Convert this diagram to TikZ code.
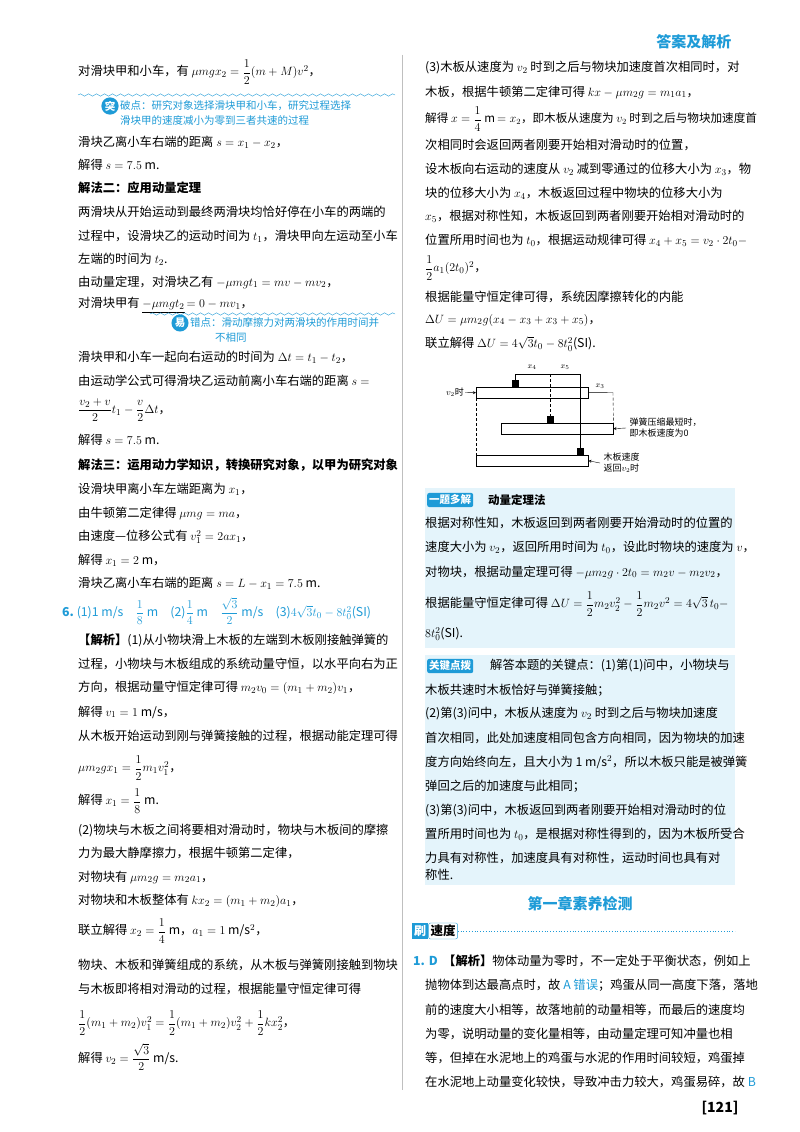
\documentclass[tikz,border=0pt]{standalone}
\usepackage{amsmath}
\usepackage{fontspec}
\setmainfont{Noto Sans CJK SC}
\usetikzlibrary{decorations.pathmorphing}
\definecolor{bl}{HTML}{1E9BD7}
\definecolor{bgc}{HTML}{E4F4FB}
\newcommand{\lft}[2]{\node[txt] at (78,#1) {#2};}
\newcommand{\rgt}[2]{\node[txt] at (425,#1) {#2};}
\begin{document}
\begin{tikzpicture}[x=1pt,y=-1pt,
 txt/.style={anchor=west,inner sep=0pt,font=\fontsize{12.3}{15}\selectfont},
 tip/.style={anchor=west,inner sep=0pt,font=\fontsize{10.5}{13}\selectfont,text=bl},
 tag/.style={fill=bl,text=white,rounded corners=2pt,inner sep=2pt,font=\fontsize{10.5}{13}\selectfont\bfseries},
 board/.style={draw,thin,fill=white},
 blk/.style={fill=black,minimum size=7pt,inner sep=0pt},
 dl/.style={densely dashed,thin}]
\useasboundingbox (0,0) rectangle (800,1132);
\fill[white] (0,0) rectangle (800,1132);
\draw[gray!50,line width=0.8pt] (402,55) -- (402,1090);
\node[anchor=east,text=bl,font=\fontsize{15}{18}\selectfont\bfseries] (hdr) at (735,42) {答案及解析};
% left column
\lft{72}{对滑块甲和小车，有 $\mu mgx_2=\dfrac{1}{2}(m+M)v^2$，}
\draw[bl,decorate,decoration={snake,amplitude=1.2pt,segment length=8pt}] (78,95) -- (395,95);
\node[tag,circle,inner sep=1pt] (t1) at (110,106) {突};
\node[tip] at (120,106) {破点：研究对象选择滑块甲和小车，研究过程选择};
\node[tip] at (120,121) {滑块甲的速度减小为零到三者共速的过程};
\lft{142}{滑块乙离小车右端的距离 $s=x_1-x_2$，}
\lft{165}{解得 $s=7.5$ m.}
\lft{188}{\bfseries 解法二：应用动量定理}
\lft{212}{两滑块从开始运动到最终两滑块均恰好停在小车的两端的}
\lft{236}{过程中，设滑块乙的运动时间为 $t_1$，滑块甲向左运动至小车}
\lft{259}{左端的时间为 $t_2$.}
\lft{282}{由动量定理，对滑块乙有 $-\mu mgt_1=mv-mv_2$，}
\lft{305}{对滑块甲有 \underline{$-\mu mgt_2$}$\,=0-mv_1$，}
\draw[bl,decorate,decoration={snake,amplitude=1.2pt,segment length=8pt}] (150,314) -- (395,314);
\node[tag,circle,inner sep=1pt] (t2) at (180,323) {易};
\node[tip] at (190,323) {错点：滑动摩擦力对两滑块的作用时间并};
\node[tip] at (215,338) {不相同};
\lft{357}{滑块甲和小车一起向右运动的时间为 $\Delta t=t_1-t_2$，}
\lft{381}{由运动学公式可得滑块乙运动前离小车右端的距离 $s=$}
\lft{410}{$\dfrac{v_2+v}{2}t_1-\dfrac{v}{2}\Delta t$，}
\lft{440}{解得 $s=7.5$ m.}
\lft{465}{\bfseries 解法三：运用动力学知识，转换研究对象，以甲为研究对象}
\lft{489}{设滑块甲离小车左端距离为 $x_1$，}
\lft{513}{由牛顿第二定律得 $\mu mg=ma$，}
\lft{537}{由速度—位移公式有 $v_1^2=2ax_1$，}
\lft{560}{解得 $x_1=2$ m，}
\lft{583}{滑块乙离小车右端的距离 $s=L-x_1=7.5$ m.}
\node[txt,text=bl] at (62,611) {\textbf{6.}\ (1)1 m/s\quad $\dfrac{1}{8}$ m\quad (2)$\dfrac{1}{4}$ m\quad $\dfrac{\sqrt3}{2}$ m/s\quad (3)$4\sqrt3t_0-8t_0^2$(SI)};
\lft{640}{\textbf{【解析】}(1)从小物块滑上木板的左端到木板刚接触弹簧的}
\lft{664}{过程，小物块与木板组成的系统动量守恒，以水平向右为正}
\lft{688}{方向，根据动量守恒定律可得 $m_2v_0=(m_1+m_2)v_1$，}
\lft{712}{解得 $v_1=1$ m/s，}
\lft{736}{从木板开始运动到刚与弹簧接触的过程，根据动能定理可得}
\lft{768}{$\mu m_2gx_1=\dfrac{1}{2}m_1v_1^2$，}
\lft{801}{解得 $x_1=\dfrac{1}{8}$ m.}
\lft{830}{(2)物块与木板之间将要相对滑动时，物块与木板间的摩擦}
\lft{853}{力为最大静摩擦力，根据牛顿第二定律，}
\lft{877}{对物块有 $\mu m_2g=m_2a_1$，}
\lft{901}{对物块和木板整体有 $kx_2=(m_1+m_2)a_1$，}
\lft{931}{联立解得 $x_2=\dfrac{1}{4}$ m，$a_1=1$ m/s$^2$，}
\lft{965}{物块、木板和弹簧组成的系统，从木板与弹簧刚接触到物块}
\lft{989}{与木板即将相对滑动的过程，根据能量守恒定律可得}
\lft{1023}{$\dfrac{1}{2}(m_1+m_2)v_1^2=\dfrac{1}{2}(m_1+m_2)v_2^2+\dfrac{1}{2}kx_2^2$，}
\lft{1057}{解得 $v_2=\dfrac{\sqrt3}{2}$ m/s.}
% right column
\rgt{68}{(3)木板从速度为 $v_2$ 时到之后与物块加速度首次相同时，对}
\rgt{92}{木板，根据牛顿第二定律可得 $kx-\mu m_2g=m_1a_1$，}
\node[txt,font=\fontsize{11.6}{15}\selectfont] at (425,119) {解得 $x=\dfrac{1}{4}$ m$\,=x_2$，即木板从速度为 $v_2$ 时到之后与物块加速度首};
\rgt{145}{次相同时会返回两者刚要开始相对滑动时的位置，}
\rgt{169}{设木板向右运动的速度从 $v_2$ 减到零通过的位移大小为 $x_3$，物}
\rgt{193}{块的位移大小为 $x_4$，木板返回过程中物块的位移大小为}
\rgt{216}{$x_5$，根据对称性知，木板返回到两者刚要开始相对滑动时的}
\rgt{240}{位置所用时间也为 $t_0$，根据运动规律可得 $x_4+x_5=v_2\cdot2t_0-$}
\rgt{268}{$\dfrac{1}{2}a_1(2t_0)^2$，}
\rgt{297}{根据能量守恒定律可得，系统因摩擦转化的内能}
\rgt{320}{$\Delta U=\mu m_2g(x_4-x_3+x_3+x_5)$，}
\rgt{344}{联立解得 $\Delta U=4\sqrt3t_0-8t_0^2$(SI).}
% diagram
\node[board,minimum width=112pt,minimum height=11pt,inner sep=0pt,anchor=north west] (b1) at (476,387) {};
\node[board,minimum width=112pt,minimum height=11pt,inner sep=0pt,anchor=north west] (b2) at (501,423) {};
\node[board,minimum width=112pt,minimum height=11pt,inner sep=0pt,anchor=north west] (b3) at (476,455) {};
\node[blk,anchor=south] (k1) at (515,387) {};
\node[blk,anchor=south] (k2) at (550,423) {};
\node[blk,anchor=south] (k3) at (580,455) {};
\coordinate (top1) at (515,374); \coordinate (top2) at (550,374); \coordinate (top3) at (580,374);
\draw[thin] (k1.north) -- (top1) -- (top3) -- (k3.north);
\draw[dl] (top2) -- (k2.north);
\draw[thin] (b1.east) -- (613,392.5);
\draw[dl] (613,392.5) -- (b2.north east);
\draw[dl] (b1.south west) -- (b3.north west);
\node[font=\fontsize{8}{9}\selectfont] at (532,367) {$x_4$};
\node[font=\fontsize{8}{9}\selectfont] at (565,367) {$x_5$};
\node[font=\fontsize{8}{9}\selectfont] at (600,386) {$x_3$};
\node[anchor=east,font=\fontsize{9}{10}\selectfont,inner sep=1pt] (v2) at (465,392.5) {$v_2$时};
\draw[-stealth] (v2.east) -- (b1.west);
\node[anchor=west,align=left,font=\fontsize{9}{11}\selectfont] (s2) at (626,428) {弹簧压缩最短时，\\即木板速度为0};
\draw[-stealth] (s2.west) -- (b2.east);
\node[anchor=west,align=left,font=\fontsize{9}{11}\selectfont] (s3) at (600,463) {木板速度\\返回$v_2$时};
\draw[-stealth] (s3.west) -- (b3.east);
% box 1
\fill[bgc] (425,488) rectangle (735,648);
\node[tag,anchor=west] (tg1) at (427,500) {一题多解};
\node[txt,font=\fontsize{11.5}{14}\selectfont\bfseries] at (488,500) {动量定理法};
\rgt{523}{根据对称性知，木板返回到两者刚要开始滑动时的位置的}
\rgt{547}{速度大小为 $v_2$，返回所用时间为 $t_0$，设此时物块的速度为 $v$，}
\rgt{572}{对物块，根据动量定理可得 $-\mu m_2g\cdot2t_0=m_2v-m_2v_2$，}
\rgt{604}{根据能量守恒定律可得 $\Delta U=\dfrac{1}{2}m_2v_2^2-\dfrac{1}{2}m_2v^2=4\sqrt3\,t_0-$}
\rgt{634}{$8t_0^2$(SI).}
% box 2
\fill[bgc] (425,655) rectangle (735,885);
\node[tag,anchor=west] (tg2) at (427,666) {关键点拨};
\node[txt] at (490,666) {解答本题的关键点：(1)第(1)问中，小物块与};
\rgt{690}{木板共速时木板恰好与弹簧接触；}
\rgt{714}{(2)第(3)问中，木板从速度为 $v_2$ 时到之后与物块加速度}
\rgt{738}{首次相同，此处加速度相同包含方向相同，因为物块的加速}
\rgt{762}{度方向始终向左，且大小为 1 m/s$^2$，所以木板只能是被弹簧}
\rgt{786}{弹回之后的加速度与此相同；}
\rgt{810}{(3)第(3)问中，木板返回到两者刚要开始相对滑动时的位}
\rgt{834}{置所用时间也为 $t_0$，是根据对称性得到的，因为木板所受合}
\rgt{858}{力具有对称性，加速度具有对称性，运动时间也具有对}
\rgt{875}{称性.}
% chapter title
\node[text=bl,font=\fontsize{15}{18}\selectfont\bfseries] (ch) at (580,904) {第一章素养检测};
\node[fill=bl,text=white,inner sep=2pt,font=\fontsize{12}{14}\selectfont\bfseries,anchor=west] (shua) at (412,931) {刷};
\node[anchor=west,inner sep=2pt,font=\fontsize{12.5}{15}\selectfont\bfseries,draw=bl,rounded corners=2pt,fill=white] (sd) at (shua.east) {速度};
\draw[bl,dotted,thick] (sd.east) -- (735,931);
\node[txt] at (413,961) {\textcolor{bl}{\textbf{1. D}}\ \ \textbf{【解析】}物体动量为零时，不一定处于平衡状态，例如上};
\rgt{985}{抛物体到达最高点时，故 \textcolor{bl}{A 错误}；鸡蛋从同一高度下落，落地}
\rgt{1010}{前的速度大小相等，故落地前的动量相等，而最后的速度均}
\rgt{1034}{为零，说明动量的变化量相等，由动量定理可知冲量也相}
\rgt{1058}{等，但掉在水泥地上的鸡蛋与水泥的作用时间较短，鸡蛋掉}
\rgt{1082}{在水泥地上动量变化较快，导致冲击力较大，鸡蛋易碎，故 \textcolor{bl}{B}}
\node[font=\fontsize{14}{16}\selectfont\bfseries] (pg) at (720,1108) {[121]};
\end{tikzpicture}
\end{document}
